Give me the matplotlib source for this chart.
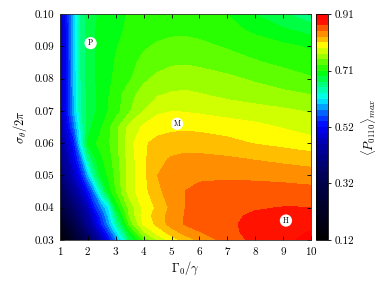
import numpy as np
import matplotlib
matplotlib.use("Agg")
import matplotlib.pyplot as plt
from matplotlib.colors import LinearSegmentedColormap

plt.rcParams['font.family'] = 'serif'
plt.rcParams['font.serif'] = ['cmr10', 'DejaVu Serif']
plt.rcParams['mathtext.fontset'] = 'cm'
plt.rcParams['axes.formatter.use_mathtext'] = True

# grid
gamma = [1, 1.25, 1.5, 1.75, 2, 2.25, 2.5, 2.75, 3, 3.5, 4, 4.5, 5, 5.5, 6, 7, 8, 9, 10]
sigma = [0.03, 0.0325, 0.035, 0.0375, 0.04, 0.045, 0.05, 0.055, 0.06, 0.065,
         0.07, 0.075, 0.08, 0.085, 0.09, 0.095, 0.10]

p_max = [
    [0.12, 0.175, 0.23, 0.29, 0.345, 0.40, 0.46, 0.515, 0.57, 0.675, 0.735, 0.775, 0.80, 0.82, 0.835, 0.86, 0.876, 0.886, 0.896],
    [0.16, 0.215, 0.27, 0.33, 0.385, 0.44, 0.495, 0.55, 0.605, 0.705, 0.77, 0.80, 0.822, 0.84, 0.85, 0.865, 0.877, 0.885, 0.891],
    [0.20, 0.255, 0.31, 0.37, 0.425, 0.48, 0.535, 0.585, 0.64, 0.74, 0.795, 0.817, 0.84, 0.853, 0.86, 0.867, 0.876, 0.882, 0.886],
    [0.245, 0.295, 0.345, 0.395, 0.44, 0.50, 0.55, 0.60, 0.665, 0.755, 0.80, 0.82, 0.839, 0.852, 0.859, 0.867, 0.873, 0.876, 0.878],
    [0.285, 0.33, 0.375, 0.415, 0.465, 0.53, 0.575, 0.615, 0.695, 0.76, 0.798, 0.815, 0.836, 0.851, 0.857, 0.865, 0.869, 0.871, 0.871],
    [0.335, 0.38, 0.425, 0.47, 0.52, 0.58, 0.65, 0.702, 0.732, 0.782, 0.804, 0.826, 0.841, 0.851, 0.856, 0.86, 0.861, 0.86, 0.857],
    [0.38, 0.425, 0.47, 0.52, 0.59, 0.66, 0.70, 0.716, 0.738, 0.78, 0.806, 0.831, 0.84, 0.845, 0.847, 0.847, 0.845, 0.843, 0.841],
    [0.405, 0.45, 0.50, 0.565, 0.65, 0.69, 0.71, 0.724, 0.742, 0.782, 0.807, 0.826, 0.833, 0.836, 0.836, 0.834, 0.83, 0.826, 0.821],
    [0.43, 0.475, 0.525, 0.62, 0.695, 0.71, 0.72, 0.73, 0.745, 0.785, 0.808, 0.818, 0.822, 0.823, 0.822, 0.817, 0.81, 0.805, 0.80],
    [0.445, 0.50, 0.565, 0.635, 0.685, 0.70, 0.712, 0.728, 0.745, 0.778, 0.795, 0.802, 0.806, 0.807, 0.806, 0.802, 0.797, 0.79, 0.782],
    [0.455, 0.52, 0.59, 0.65, 0.68, 0.69, 0.70, 0.714, 0.723, 0.75, 0.772, 0.788, 0.791, 0.79, 0.788, 0.783, 0.779, 0.775, 0.77],
    [0.46, 0.52, 0.593, 0.65, 0.68, 0.69, 0.70, 0.712, 0.722, 0.746, 0.76, 0.77, 0.774, 0.775, 0.773, 0.767, 0.762, 0.757, 0.752],
    [0.465, 0.52, 0.595, 0.653, 0.682, 0.692, 0.70, 0.708, 0.717, 0.73, 0.748, 0.757, 0.762, 0.763, 0.761, 0.756, 0.749, 0.741, 0.734],
    [0.468, 0.52, 0.597, 0.655, 0.683, 0.692, 0.70, 0.707, 0.714, 0.727, 0.737, 0.744, 0.749, 0.75, 0.748, 0.742, 0.734, 0.728, 0.722],
    [0.47, 0.52, 0.598, 0.656, 0.683, 0.692, 0.699, 0.705, 0.711, 0.721, 0.73, 0.735, 0.738, 0.739, 0.737, 0.73, 0.724, 0.717, 0.71],
    [0.472, 0.52, 0.60, 0.657, 0.683, 0.692, 0.698, 0.703, 0.708, 0.716, 0.722, 0.726, 0.728, 0.728, 0.726, 0.72, 0.708, 0.696, 0.685],
    [0.475, 0.525, 0.60, 0.655, 0.68, 0.69, 0.697, 0.703, 0.708, 0.714, 0.718, 0.72, 0.72, 0.72, 0.718, 0.712, 0.692, 0.676, 0.658],
]

cbar_ticks = [0.12, 0.3175, 0.515, 0.7125, 0.91]
cbar_labels = ['0.12', '0.32', '0.52', '0.71', '0.91']

point_names = ['P', 'M', 'H']
point_gamma = [2.1, 5.2, 9.1]
point_sigma = [0.091, 0.066, 0.036]

vmin, vmax = 0.12, 0.91
nodes = [
    (0.12, (0, 0, 0)),
    (0.25, (0, 0, 0.18)),
    (0.35, (0, 0, 0.35)),
    (0.45, (0, 0, 0.65)),
    (0.52, (0, 0, 1)),
    (0.57, (0, 0.45, 1)),
    (0.615, (0, 1, 1)),
    (0.66, (0, 1, 0.5)),
    (0.71, (0, 1, 0)),
    (0.75, (0.45, 1, 0)),
    (0.80, (1, 1, 0)),
    (0.82, (1, 0.78, 0)),
    (0.84, (1, 0.58, 0)),
    (0.86, (1, 0.35, 0)),
    (0.88, (1, 0.08, 0)),
    (0.91, (1, 0, 0)),
]
cmap = LinearSegmentedColormap.from_list(
    'pmax', [((v - vmin) / (vmax - vmin), c) for v, c in nodes])

fig = plt.figure(figsize=(3.84, 2.88), dpi=100)
ax = fig.add_axes([0.156, 0.167, 0.654, 0.784])
cax = fig.add_axes([0.823, 0.167, 0.031, 0.784])

G, S = np.meshgrid(gamma, sigma)
levels = np.linspace(vmin, vmax, 41)
cs = ax.contourf(G, S, np.array(p_max), levels=levels, cmap=cmap,
                 vmin=vmin, vmax=vmax)

for name, g, s in zip(point_names, point_gamma, point_sigma):
    ax.text(g, s, name, ha='center', va='center', fontsize=5.5,
            fontweight='bold',
            bbox=dict(boxstyle='circle,pad=0.25', fc='white', ec='none'))

ax.set_xlim(1, 10)
ax.set_ylim(0.03, 0.10)
ax.set_xticks(range(1, 11))
ax.set_yticks([0.03, 0.04, 0.05, 0.06, 0.07, 0.08, 0.09, 0.10])
ax.set_yticklabels(['0.03', '0.04', '0.05', '0.06', '0.07', '0.08', '0.09', '0.10'])
ax.tick_params(direction='in', top=True, right=True, length=3, width=0.6,
               labelsize=8, pad=4)
for sp in ax.spines.values():
    sp.set_linewidth(0.6)
    sp.set_color('#333333')
ax.set_xlabel(r'$\Gamma_0/\gamma$', fontsize=9, labelpad=2)
ax.set_ylabel(r'$\sigma_\theta/2\pi$', fontsize=9, labelpad=4)

cb = fig.colorbar(cs, cax=cax, ticks=cbar_ticks)
cb.ax.set_yticklabels(cbar_labels)
cb.ax.tick_params(direction='out', length=2.5, width=0.6, labelsize=8, pad=2)
cb.outline.set_linewidth(0.6)
cb.set_label(r'$\langle P_{0110}\rangle_{max}$', fontsize=9, labelpad=4)

fig.savefig('out.png', dpi=100)
